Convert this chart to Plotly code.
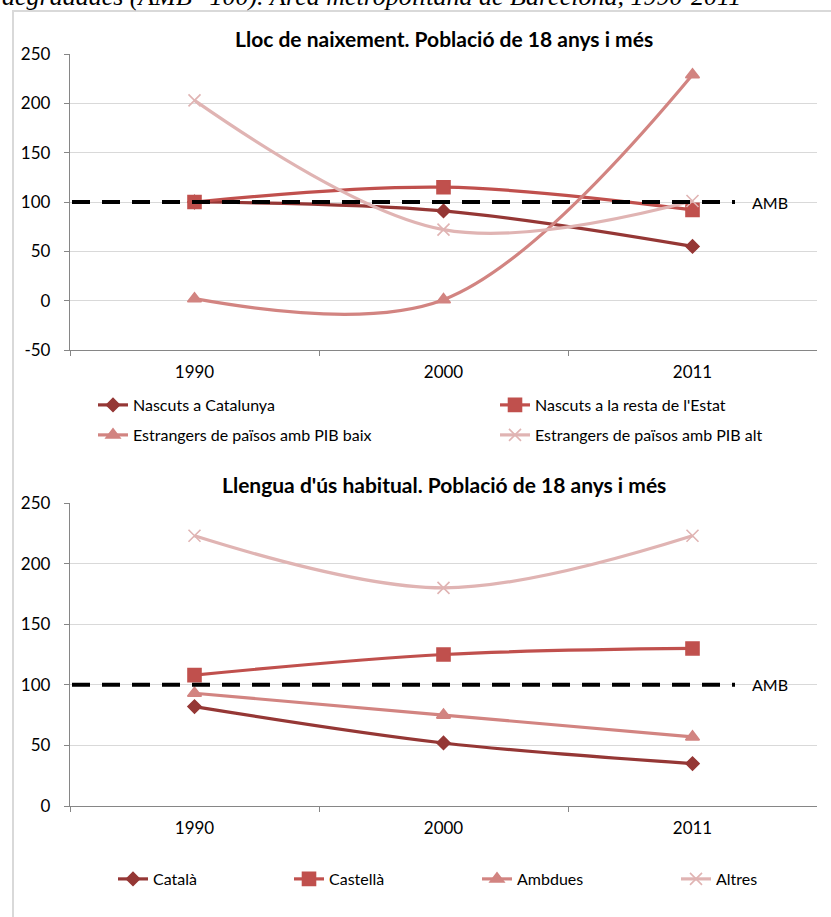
import plotly.graph_objects as go

# ---------------- data ----------------
years = ["1990", "2000", "2011"]

birth_names = [
    "Nascuts a Catalunya",
    "Nascuts a la resta de l'Estat",
    "Estrangers de països amb PIB baix",
    "Estrangers de països amb PIB alt",
]
nascuts_catalunya = [100, 91, 55]
nascuts_resta_estat = [100, 115, 92]
estrangers_pib_baix = [2, 1, 229]
estrangers_pib_alt = [203, 72, 101]

lang_names = ["Català", "Castellà", "Ambdues", "Altres"]
catala = [82, 52, 35]
castella = [108, 125, 130]
ambdues = [93, 75, 57]
altres = [223, 180, 223]

amb_value = 100
top_ticks = [-50, 0, 50, 100, 150, 200, 250]
bottom_ticks = [0, 50, 100, 150, 200, 250]
top_title = "Lloc de naixement. Població de 18 anys i més"
bottom_title = "Llengua d'ús habitual. Població de 18 anys i més"
header_text = "degradades (AMB=100). Àrea metropolitana de Barcelona, 1990-2011"

# ---------------- styling ----------------
W, H = 831, 917
def px(x):
    return x / W
def py(y):
    return 1 - y / H

colors = ["#953735", "#C0504D", "#D28481", "#E0B4B3"]
symbols = ["diamond", "square", "triangle-up", "x-thin"]
msizes = [10, 13, 12, 12]
FONT = "Lato"
AXC = "#868686"
GRID = "#D9D9D9"

fig = go.Figure()

top_series = [nascuts_catalunya, nascuts_resta_estat, estrangers_pib_baix, estrangers_pib_alt]
bottom_series = [catala, castella, ambdues, altres]

for i, (name, vals) in enumerate(zip(birth_names, top_series)):
    fig.add_trace(go.Scatter(
        x=years, y=vals, name=name, mode="lines+markers", showlegend=True,
        line=dict(color=colors[i], width=3.2, shape="spline", smoothing=1),
        marker=dict(symbol=symbols[i], size=msizes[i], color=colors[i],
                    line=dict(color=colors[i], width=1.6)),
        xaxis="x", yaxis="y",
        legend="legend" if i == 0 else f"legend{i+1}",
    ))

for i, (name, vals) in enumerate(zip(lang_names, bottom_series)):
    fig.add_trace(go.Scatter(
        x=years, y=vals, name=name, mode="lines+markers", showlegend=True,
        line=dict(color=colors[i], width=3.2, shape="spline", smoothing=1),
        marker=dict(symbol=symbols[i], size=msizes[i], color=colors[i],
                    line=dict(color=colors[i], width=1.6)),
        xaxis="x2", yaxis="y2",
        legend=f"legend{i+5}",
    ))

# AMB reference lines
for yref in ["y", "y2"]:
    fig.add_shape(type="line", xref="paper", yref=yref,
                  x0=px(72), x1=px(735), y0=amb_value, y1=amb_value,
                  line=dict(color="black", width=4, dash="18px,12px"))
    fig.add_annotation(xref="paper", yref=yref, x=px(750), y=amb_value,
                       text="AMB", showarrow=False, xanchor="left", yanchor="middle",
                       font=dict(family=FONT, size=16, color="black"))

# chart-area border
fig.add_shape(type="rect", xref="paper", yref="paper",
              x0=px(13), x1=1.05, y0=py(11), y1=-0.05,
              line=dict(color=GRID, width=2), layer="below")

# titles
fig.add_annotation(xref="paper", yref="paper", x=px(443.5), y=py(38),
                   text=f"<b>{top_title}</b>", showarrow=False,
                   xanchor="center", yanchor="middle",
                   font=dict(family=FONT, size=21, color="black"))
fig.add_annotation(xref="paper", yref="paper", x=px(443.5), y=py(484),
                   text=f"<b>{bottom_title}</b>", showarrow=False,
                   xanchor="center", yanchor="middle",
                   font=dict(family=FONT, size=21, color="black"))
fig.add_annotation(xref="paper", yref="paper", x=0, y=py(13),
                   text=f"<i>{header_text}</i>", showarrow=False,
                   xanchor="left", yanchor="bottom",
                   font=dict(family="Liberation Serif", size=26, color="black"))

xax = dict(type="category", range=[-0.5, 2.5], tickson="boundaries",
           ticks="outside", ticklen=5, tickcolor=AXC, showline=True,
           linecolor=AXC, linewidth=1.3, showgrid=False, zeroline=False,
           tickfont=dict(family=FONT, size=17, color="black"),
           ticklabelstandoff=6, fixedrange=True, automargin=False)
yax = dict(showgrid=True, gridcolor=GRID, gridwidth=1.3, showline=True,
           linecolor=AXC, linewidth=1.3, ticks="outside", ticklen=5,
           tickcolor=AXC, zeroline=False, automargin=False,
           tickfont=dict(family=FONT, size=17, color="black"),
           ticklabelstandoff=10)

fig.update_layout(
    width=W, height=H,
    margin=dict(l=0, r=0, t=0, b=0, pad=0, autoexpand=False),
    paper_bgcolor="white", plot_bgcolor="white",
    showlegend=True,
    font=dict(family=FONT, color="black"),
    xaxis=dict(xax, domain=[px(70), px(817)], anchor="y"),
    yaxis=dict(yax, domain=[py(350), py(54)], range=[-50, 250], anchor="x",
               tickvals=top_ticks, ticktext=[str(v) for v in top_ticks]),
    xaxis2=dict(xax, domain=[px(70), px(817)], anchor="y2"),
    yaxis2=dict(yax, domain=[py(806), py(503)], range=[0, 250], anchor="x2",
                tickvals=bottom_ticks, ticktext=[str(v) for v in bottom_ticks]),
)

# legends: one per entry, placed like the original
leg_base = dict(bgcolor="rgba(0,0,0,0)", borderwidth=0, xanchor="left",
                yanchor="middle", font=dict(family=FONT, size=16, color="black"),
                itemclick=False, itemdoubleclick=False, visible=True,
                xref="paper", yref="paper")
leg_pos = [(133, 405), (535, 405), (133, 435), (535, 435),
           (153, 879), (329, 879), (517, 879), (716, 879)]
for i, (tx, ty) in enumerate(leg_pos):
    key = "legend" if i == 0 else f"legend{i+1}"
    fig.update_layout({key: dict(leg_base, x=px(tx - 40), y=py(ty))})

fig.write_html(
    "out.html",
    config={"displayModeBar": False},
    post_script="document.body.style.margin='0';document.body.style.overflow='hidden';",
)
